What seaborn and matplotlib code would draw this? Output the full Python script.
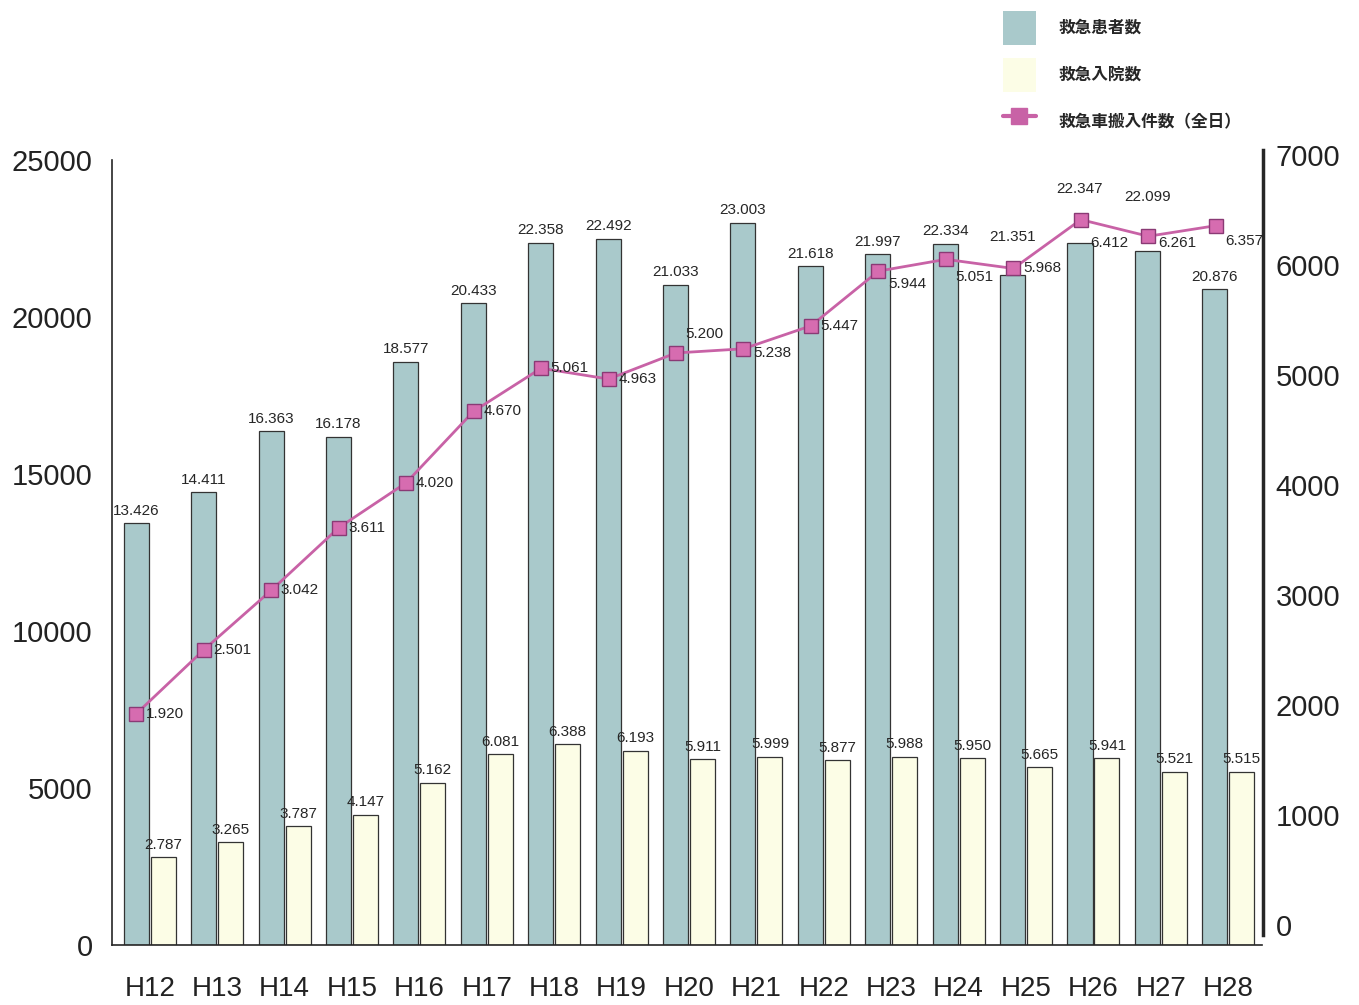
import numpy as np
import pandas as pd
import matplotlib
matplotlib.use("Agg")
import matplotlib.pyplot as plt
import seaborn as sns
from matplotlib.patches import Patch
from matplotlib.lines import Line2D

# 年度
years = ["H12", "H13", "H14", "H15", "H16", "H17", "H18", "H19", "H20",
         "H21", "H22", "H23", "H24", "H25", "H26", "H27", "H28"]
# 救急患者数
patients = [13426, 14411, 16363, 16178, 18577, 20433, 22358, 22492, 21033,
            23003, 21618, 21997, 22334, 21351, 22347, 22099, 20876]
# 救急入院数
admissions = [2787, 3265, 3787, 4147, 5162, 6081, 6388, 6193, 5911,
              5999, 5877, 5988, 5950, 5665, 5941, 5521, 5515]
# 救急車搬入件数（全日）
ambulance = [1920, 2501, 3042, 3611, 4020, 4670, 5061, 4963, 5200,
             5238, 5447, 5944, 6051, 5968, 6412, 6261, 6357]
# 元の図の表記どおり (H24 は 5.051 と印字されている)
amb_labels = ["1.920", "2.501", "3.042", "3.611", "4.020", "4.670", "5.061", "4.963", "5.200",
              "5.238", "5.447", "5.944", "5.051", "5.968", "6.412", "6.261", "6.357"]

label_patients = "救急患者数"
label_adm = "救急入院数"
label_amb = "救急車搬入件数（全日）"

teal = "#a9c9cb"
cream = "#fcfde6"
pink = "#c862a6"

sns.set_style("white")
plt.rcParams["font.family"] = ["Liberation Sans", "DejaVu Sans"]

df = pd.DataFrame({"year": years * 2,
                   "value": patients + admissions,
                   "kind": [label_patients] * len(years) + [label_adm] * len(years)})

W, H = 1359, 1005
fig = plt.figure(figsize=(W / 100, H / 100), dpi=100)
# 左軸: x 112..1262 px, y 160..945 px
ax = fig.add_axes([112 / W, 1 - 945 / H, 1150 / W, 785 / H])

sns.barplot(data=df, x="year", y="value", hue="kind",
            palette=[teal, cream], saturation=1, width=0.8, gap=0.07,
            edgecolor="#333333", linewidth=0.9, legend=False, ax=ax)

xlim = (-0.56, 16.5)
ax.set_xlim(*xlim)
ax.set_ylim(0, 25000)
ax.set_yticks([0, 5000, 10000, 15000, 20000, 25000])
ax.set_xlabel("")
ax.set_ylabel("")
ax.tick_params(axis="y", direction="in", length=24, width=1.2, labelsize=21, pad=14,
               labelcolor="#222222")
ax.tick_params(axis="x", length=0, labelsize=20, pad=22, labelcolor="#222222")
for s in ["top", "right"]:
    ax.spines[s].set_visible(False)
ax.spines["left"].set_linewidth(1.2)
ax.spines["bottom"].set_linewidth(1.2)

xs = np.arange(len(years))
off = 0.2

# 右軸: 0 は y=925 px, 7000 は y=155 px (スキャンのずれ)
ax2 = fig.add_axes([112 / W, 1 - 935 / H, 1151 / W, 785 / H])
ax2.patch.set_alpha(0)
sns.lineplot(x=xs - off, y=ambulance, ax=ax2, color=pink, linewidth=2,
             marker="s", markersize=10, markerfacecolor="#d66cb0",
             markeredgecolor="#8a3a75", markeredgewidth=1)
ax2.set_xlim(*xlim)
ax2.set_ylim(-91, 7045)
ax2.set_yticks(range(0, 8000, 1000))
ax2.yaxis.tick_right()
ax2.set_xticks([])
ax2.tick_params(axis="y", length=0, labelsize=21, pad=9, labelcolor="#222222")
for s in ["top", "left", "bottom"]:
    ax2.spines[s].set_visible(False)
ax2.spines["right"].set_linewidth(2.5)
ax2.grid(False)

# 折れ線のラベル位置の微調整 (points)
amb_dy = {"H20": 14, "H21": -3, "H23": -9, "H24": -13, "H26": -17,
          "H27": -5, "H28": -11}
for i in range(len(years)):
    dy = amb_dy.get(years[i], 0)
    ax2.annotate(amb_labels[i], (xs[i] - off, ambulance[i]), xytext=(7, dy),
                 textcoords="offset points", ha="left", va="center", fontsize=11)

# バーの数値ラベル (線と重なるものは上へ)
bar_dy = {"H25": 18, "H26": 30, "H27": 30}
for i in range(len(years)):
    ax.annotate(f"{patients[i]:,}".replace(",", "."), (xs[i] - off, patients[i]),
                xytext=(0, 4 + bar_dy.get(years[i], 0)), textcoords="offset points",
                ha="center", va="bottom", fontsize=11)
    ax.annotate(f"{admissions[i]:,}".replace(",", "."), (xs[i] + off, admissions[i]),
                xytext=(0, 4), textcoords="offset points",
                ha="center", va="bottom", fontsize=11)

# 凡例
handles = [Patch(facecolor=teal, edgecolor="none"),
           Patch(facecolor=cream, edgecolor="none"),
           Line2D([0], [0], color=pink, linewidth=3, marker="s", markersize=12,
                  markerfacecolor="#c862a6", markeredgecolor="#c862a6")]
fig.legend(handles, [label_patients, label_adm, label_amb],
           loc="upper left", bbox_to_anchor=(988 / W, 1.004), frameon=False,
           handlelength=1.95, handleheight=2.75, labelspacing=0.8, handletextpad=1.4,
           prop={"family": ["Noto Sans CJK JP", "DejaVu Sans"], "size": 12, "weight": "bold"})

fig.savefig("out.png", dpi=100)
